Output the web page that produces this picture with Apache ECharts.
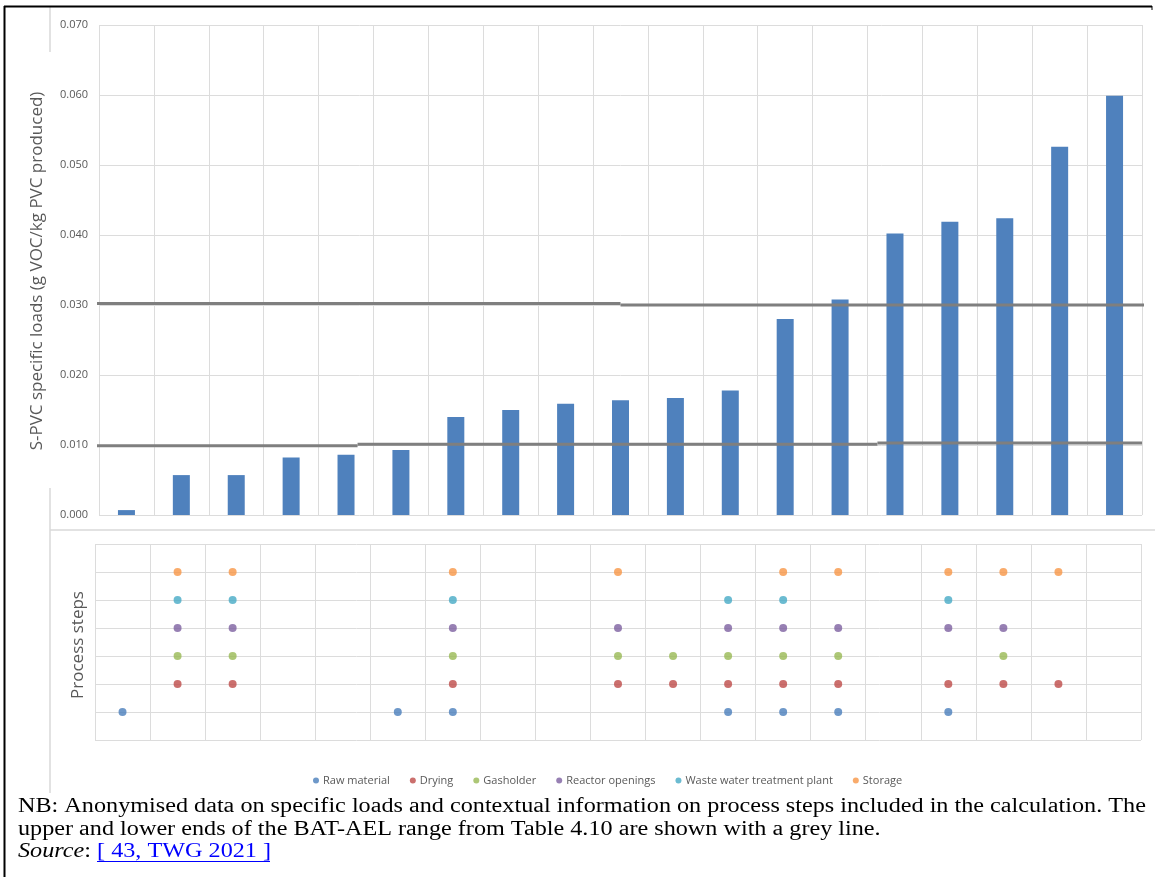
<!DOCTYPE html>
<html>
<head>
<meta charset="utf-8">
<script src="https://cdn.jsdelivr.net/npm/echarts@6/dist/echarts.min.js"></script>
<style>html,body{margin:0;padding:0;background:#fff;}#c{width:1155px;height:877px;}</style>
</head>
<body>
<div id="c"></div>
<script>
// ---- data ----
const plants = ['1','2','3','4','5','6','7','8','9','10','11','12','13','14','15','16','17','18','19'];
const specificLoads = [0.0007, 0.0057, 0.0057, 0.0082, 0.0086, 0.0093, 0.0140, 0.0150, 0.0159, 0.0164, 0.0167, 0.0178, 0.0280, 0.0308, 0.0402, 0.0419, 0.0424, 0.0526, 0.0599];
const yTicks = [0, 0.01, 0.02, 0.03, 0.04, 0.05, 0.06, 0.07];
// BAT-AEL grey line segments: [fromIndex, toIndex, value]
const aelUpper = [[-0.57, 9.0, 0.0302], [9.0, 18.6, 0.0300]];
const aelLower = [[-0.57, 4.21, 0.0099], [4.21, 13.68, 0.0101], [13.68, 18.5, 0.0103]];
// process steps: plant numbers (1-based) where each step is included
const stepNames = ['Raw material', 'Drying', 'Gasholder', 'Reactor openings', 'Waste water treatment plant', 'Storage'];
const rawMaterial = [1, 6, 7, 12, 13, 14, 16];
const drying = [2, 3, 7, 10, 11, 12, 13, 14, 16, 17, 18];
const gasholder = [2, 3, 7, 10, 11, 12, 13, 14, 17];
const reactorOpenings = [2, 3, 7, 10, 12, 13, 14, 16, 17];
const wasteWater = [2, 3, 7, 12, 13, 16];
const storage = [2, 3, 7, 10, 13, 14, 16, 17, 18];
const stepPlants = [rawMaterial, drying, gasholder, reactorOpenings, wasteWater, storage];
const stepColors = ['#4a7ebb', '#be4b48', '#98b954', '#7d60a0', '#46aac5', '#f79646'];

const chart = echarts.init(document.getElementById('c'), null, {renderer: 'canvas'});
const lblFont = '"Open Sans", sans-serif';
const serif = '"Liberation Serif", "Times New Roman", serif';
const gridCol = '#dcdcdc';
const noteSize = 20.5, noteScaleX = 1.18;

const series = [];
series.push({
  type: 'bar', xAxisIndex: 0, yAxisIndex: 0, data: specificLoads,
  barWidth: 17, itemStyle: {color: '#4f81bd'}, z: 2, silent: true
});
aelUpper.concat(aelLower).forEach(seg => {
  series.push({
    type: 'line', xAxisIndex: 2, yAxisIndex: 0, clip: false, symbol: 'none', silent: true,
    data: [[seg[0], seg[2]], [seg[1], seg[2]]],
    lineStyle: {color: '#7f7f7f', width: 3}, z: 5
  });
});
stepNames.forEach((name, k) => {
  series.push({
    name: name, type: 'scatter', xAxisIndex: 1, yAxisIndex: 1,
    data: stepPlants[k].map(p => [plants[p - 1], k + 1]),
    symbolSize: 8, itemStyle: {color: stepColors[k]}, z: 3, silent: true
  });
});

chart.setOption({
  animation: false,
  backgroundColor: '#fff',
  grid: [
    {left: 99, top: 25, width: 1043, height: 490},
    {left: 95, top: 544, width: 1046, height: 196}
  ],
  xAxis: [
    {type: 'category', gridIndex: 0, data: plants, axisLine: {show: false}, axisTick: {show: false}, axisLabel: {show: false},
     splitLine: {show: true, interval: 0, lineStyle: {color: gridCol, width: 1}}},
    {type: 'category', gridIndex: 1, data: plants, axisLine: {show: false}, axisTick: {show: false}, axisLabel: {show: false},
     splitLine: {show: true, interval: 0, lineStyle: {color: gridCol, width: 1}}},
    {type: 'value', gridIndex: 0, min: -0.5, max: 18.5, show: false}
  ],
  yAxis: [
    {type: 'value', gridIndex: 0, min: yTicks[0], max: yTicks[yTicks.length - 1], interval: 0.01,
     axisLine: {show: false}, axisTick: {show: false},
     axisLabel: {fontFamily: lblFont, fontSize: 11, color: '#595959', margin: 11, formatter: v => v.toFixed(3)},
     splitLine: {lineStyle: {color: gridCol, width: 1}}},
    {type: 'value', gridIndex: 1, min: 0, max: 7, interval: 1,
     axisLine: {show: false}, axisTick: {show: false}, axisLabel: {show: false},
     splitLine: {lineStyle: {color: gridCol, width: 1}}}
  ],
  legend: {
    data: stepNames, top: 770, left: 308, icon: 'circle', itemWidth: 6, itemHeight: 6, itemGap: 20,
    textStyle: {fontFamily: lblFont, fontSize: 11, color: '#595959', padding: [0, 0, 0, -1]}
  },
  series: series,
  graphic: [
    // chart-area borders
    {type: 'line', shape: {x1: 50, y1: 6, x2: 50, y2: 52}, style: {stroke: '#d9d9d9', lineWidth: 1.5}, silent: true},
    {type: 'line', shape: {x1: 50, y1: 488, x2: 50, y2: 793}, style: {stroke: '#d9d9d9', lineWidth: 1.5}, silent: true},
    {type: 'line', shape: {x1: 50, y1: 530, x2: 1155, y2: 530}, style: {stroke: '#d9d9d9', lineWidth: 1.5}, silent: true},
    // outer black frame
    {type: 'line', shape: {x1: 4.5, y1: 6, x2: 4.5, y2: 877}, style: {stroke: '#000', lineWidth: 2}, silent: true},
    {type: 'line', shape: {x1: 4, y1: 6.5, x2: 1152, y2: 6.5}, style: {stroke: '#000', lineWidth: 2}, silent: true},
    {type: 'line', shape: {x1: 1152, y1: 6, x2: 1152, y2: 10}, style: {stroke: '#000', lineWidth: 1}, silent: true},
    // axis titles
    {type: 'text', x: 37, y: 271, rotation: Math.PI / 2,
     style: {text: 'S-PVC specific loads (g VOC/kg PVC produced)', fontFamily: lblFont, fontSize: 17, fill: '#595959', align: 'center', verticalAlign: 'middle'}},
    {type: 'text', x: 78, y: 645, rotation: Math.PI / 2,
     style: {text: 'Process steps', fontFamily: lblFont, fontSize: 17, fill: '#595959', align: 'center', verticalAlign: 'middle'}},
    // footnote
    {type: 'text', x: 18, y: 796.5, scaleX: noteScaleX,
     style: {text: 'NB: Anonymised data on specific loads and contextual information on process steps included in the calculation. The', fontFamily: serif, fontSize: noteSize, fill: '#000', verticalAlign: 'top'}},
    {type: 'text', x: 18, y: 819, scaleX: noteScaleX,
     style: {text: 'upper and lower ends of the BAT-AEL range from Table 4.10 are shown with a grey line.', fontFamily: serif, fontSize: noteSize, fill: '#000', verticalAlign: 'top'}},
    {type: 'text', x: 18, y: 841.5, scaleX: noteScaleX,
     style: {text: '{i|Source}{n|: }{l|[ 43, TWG 2021 ]}', verticalAlign: 'top',
       rich: {
         i: {fontFamily: serif, fontSize: noteSize, fontStyle: 'italic', fill: '#000'},
         n: {fontFamily: serif, fontSize: noteSize, fill: '#000'},
         l: {fontFamily: serif, fontSize: noteSize, fill: '#0000ff'}
       }}},
    {type: 'line', shape: {x1: 97, y1: 861.5, x2: 270, y2: 861.5}, style: {stroke: '#0000ff', lineWidth: 1}, silent: true}
  ]
});
</script>
</body>
</html>
